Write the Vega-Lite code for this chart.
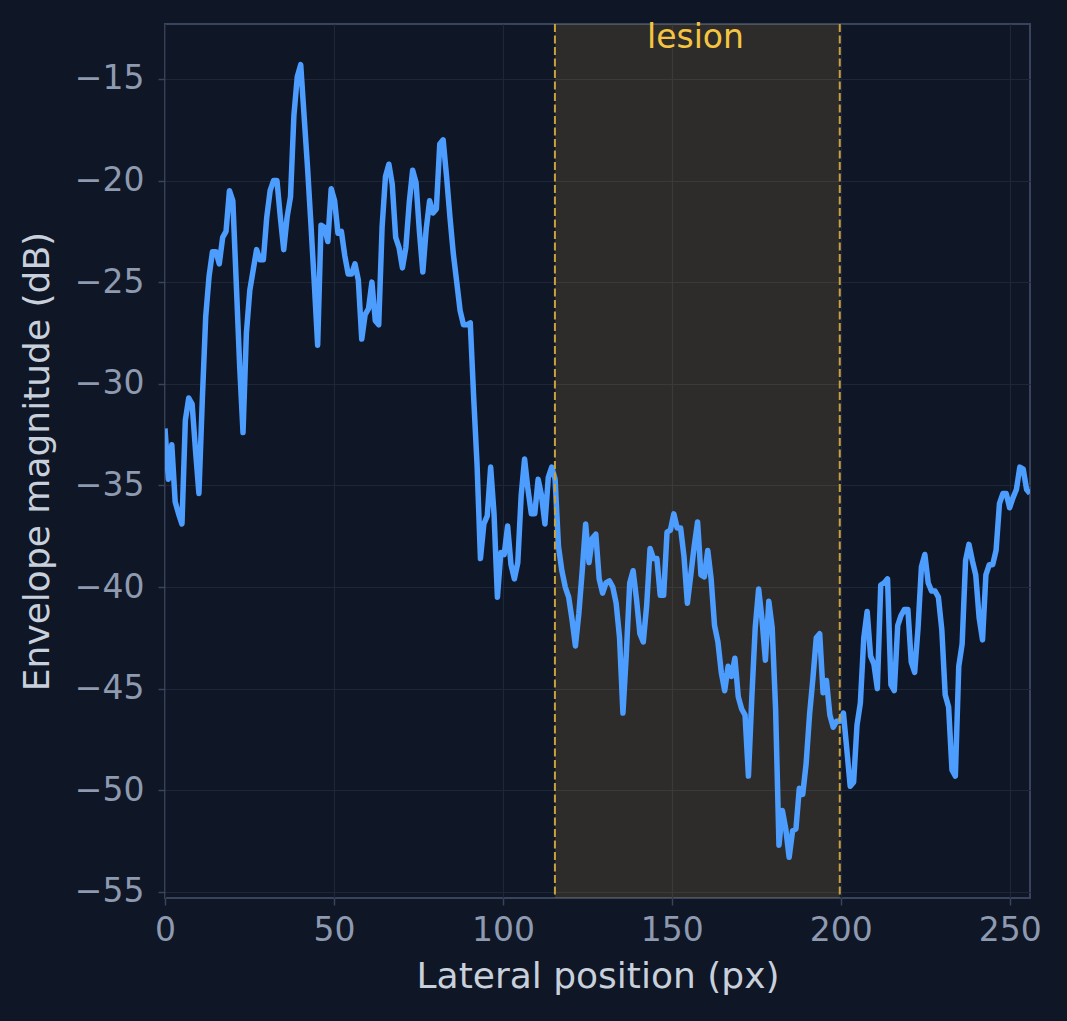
{
  "$schema": "https://vega.github.io/schema/vega-lite/v6.json",
  "width": 865,
  "height": 874,
  "autosize": {"type": "none"},
  "padding": {"left": 165, "top": 24, "right": 37, "bottom": 123},
  "background": "#0f1626",
  "config": {
    "view": {"stroke": "#37445c", "strokeWidth": 2},
    "font": "DejaVu Sans",
    "axis": {
      "domain": false,
      "grid": true,
      "gridColor": "#1e2737",
      "gridWidth": 1.2,
      "tickColor": "#37445c",
      "tickSize": 7,
      "tickWidth": 1.5,
      "labelColor": "#8e9ab0",
      "labelFontSize": 33,
      "labelFont": "DejaVu Sans",
      "labelFlush": false,
      "titleColor": "#c8d0dc",
      "titleFontSize": 36,
      "titleFont": "DejaVu Sans",
      "titleFontWeight": "normal"
    },
    "axisX": {"labelPadding": 9, "titlePadding": 12},
    "axisY": {"labelPadding": 14, "titlePadding": 18}
  },
  "datasets": {
    "lesion": [{"start": 115.4, "end": 199.7, "mid": 157, "label": "lesion"}],
    "env": [
      {"x":0,"v":-32.2},{"x":1.00,"v":-34.7},{"x":2.01,"v":-33.0},{"x":3.01,"v":-35.8},{"x":4.02,"v":-36.4},{"x":5.02,"v":-36.9},{"x":6.02,"v":-31.8},{"x":7.03,"v":-30.7},{"x":8.03,"v":-31.0},{"x":9.04,"v":-33.3},
      {"x":10.04,"v":-35.4},{"x":11.04,"v":-30.8},{"x":12.05,"v":-26.7},{"x":13.05,"v":-24.7},{"x":14.05,"v":-23.5},{"x":15.06,"v":-23.5},{"x":16.06,"v":-24.1},{"x":17.07,"v":-22.8},{"x":18.07,"v":-22.5},{"x":19.07,"v":-20.5},
      {"x":20.08,"v":-21.0},{"x":21.08,"v":-25.0},{"x":22.09,"v":-29.1},{"x":23.09,"v":-32.4},{"x":24.09,"v":-27.5},{"x":25.10,"v":-25.4},{"x":26.10,"v":-24.4},{"x":27.11,"v":-23.4},{"x":28.11,"v":-23.9},{"x":29.11,"v":-23.9},
      {"x":30.12,"v":-21.8},{"x":31.12,"v":-20.5},{"x":32.13,"v":-20.0},{"x":33.13,"v":-20.0},{"x":34.13,"v":-21.8},{"x":35.14,"v":-23.4},{"x":36.14,"v":-21.8},{"x":37.15,"v":-20.8},{"x":38.15,"v":-16.8},{"x":39.15,"v":-14.9},
      {"x":40.16,"v":-14.3},{"x":41.16,"v":-16.8},{"x":42.16,"v":-19.3},{"x":43.17,"v":-22.1},{"x":44.17,"v":-25.0},{"x":45.18,"v":-28.1},{"x":46.18,"v":-22.2},{"x":47.18,"v":-22.3},{"x":48.19,"v":-23.0},{"x":49.19,"v":-20.4},
      {"x":50.20,"v":-21.0},{"x":51.20,"v":-22.6},{"x":52.20,"v":-22.5},{"x":53.21,"v":-23.7},{"x":54.21,"v":-24.6},{"x":55.22,"v":-24.6},{"x":56.22,"v":-24.1},{"x":57.22,"v":-24.9},{"x":58.23,"v":-27.8},{"x":59.23,"v":-26.6},
      {"x":60.24,"v":-26.3},{"x":61.24,"v":-25.0},{"x":62.24,"v":-26.9},{"x":63.25,"v":-27.1},{"x":64.25,"v":-22.3},{"x":65.25,"v":-19.8},{"x":66.26,"v":-19.2},{"x":67.26,"v":-20.2},{"x":68.27,"v":-22.8},{"x":69.27,"v":-23.3},
      {"x":70.27,"v":-24.3},{"x":71.28,"v":-23.3},{"x":72.28,"v":-21.1},{"x":73.29,"v":-19.5},{"x":74.29,"v":-20.1},{"x":75.29,"v":-22.5},{"x":76.30,"v":-24.5},{"x":77.30,"v":-22.4},{"x":78.31,"v":-21.0},{"x":79.31,"v":-21.6},
      {"x":80.31,"v":-21.4},{"x":81.32,"v":-18.2},{"x":82.32,"v":-18.0},{"x":83.33,"v":-19.8},{"x":84.33,"v":-21.8},{"x":85.33,"v":-23.6},{"x":86.34,"v":-25.0},{"x":87.34,"v":-26.4},{"x":88.35,"v":-27.1},{"x":89.35,"v":-27.1},
      {"x":90.35,"v":-27.0},{"x":91.36,"v":-30.7},{"x":92.36,"v":-34.0},{"x":93.36,"v":-38.6},{"x":94.37,"v":-36.9},{"x":95.37,"v":-36.5},{"x":96.38,"v":-34.1},{"x":97.38,"v":-36.4},{"x":98.38,"v":-40.5},{"x":99.39,"v":-38.3},
      {"x":100.39,"v":-38.4},{"x":101.40,"v":-37.0},{"x":102.40,"v":-38.9},{"x":103.40,"v":-39.6},{"x":104.41,"v":-38.8},{"x":105.41,"v":-35.5},{"x":106.42,"v":-33.7},{"x":107.42,"v":-35.2},{"x":108.42,"v":-36.4},{"x":109.43,"v":-36.4},
      {"x":110.43,"v":-34.7},{"x":111.44,"v":-35.5},{"x":112.44,"v":-36.9},{"x":113.44,"v":-34.6},{"x":114.45,"v":-34.1},{"x":115.45,"v":-34.7},{"x":116.45,"v":-38.0},{"x":117.46,"v":-39.2},{"x":118.46,"v":-40.0},{"x":119.47,"v":-40.5},
      {"x":120.47,"v":-41.6},{"x":121.47,"v":-42.9},{"x":122.48,"v":-41.3},{"x":123.48,"v":-39.2},{"x":124.49,"v":-36.9},{"x":125.49,"v":-38.8},{"x":126.49,"v":-37.6},{"x":127.50,"v":-37.4},{"x":128.50,"v":-39.6},{"x":129.51,"v":-40.3},
      {"x":130.51,"v":-39.8},{"x":131.51,"v":-39.7},{"x":132.52,"v":-40.0},{"x":133.52,"v":-40.8},{"x":134.53,"v":-42.5},{"x":135.53,"v":-46.2},{"x":136.53,"v":-43.3},{"x":137.54,"v":-39.8},{"x":138.54,"v":-39.2},{"x":139.55,"v":-40.6},
      {"x":140.55,"v":-42.3},{"x":141.55,"v":-42.7},{"x":142.56,"v":-40.9},{"x":143.56,"v":-38.1},{"x":144.56,"v":-38.6},{"x":145.57,"v":-38.6},{"x":146.57,"v":-40.4},{"x":147.58,"v":-40.4},{"x":148.58,"v":-37.3},{"x":149.58,"v":-37.2},
      {"x":150.59,"v":-36.4},{"x":151.59,"v":-37.1},{"x":152.60,"v":-37.1},{"x":153.60,"v":-38.5},{"x":154.60,"v":-40.8},{"x":155.61,"v":-39.4},{"x":156.61,"v":-38.0},{"x":157.62,"v":-36.8},{"x":158.62,"v":-39.4},{"x":159.62,"v":-39.5},
      {"x":160.63,"v":-38.2},{"x":161.63,"v":-39.6},{"x":162.64,"v":-41.9},{"x":163.64,"v":-42.7},{"x":164.64,"v":-44.2},{"x":165.65,"v":-45.1},{"x":166.65,"v":-43.9},{"x":167.65,"v":-44.4},{"x":168.66,"v":-43.5},{"x":169.66,"v":-45.4},
      {"x":170.67,"v":-46.0},{"x":171.67,"v":-46.3},{"x":172.67,"v":-49.3},{"x":173.68,"v":-45.4},{"x":174.68,"v":-42.0},{"x":175.69,"v":-40.1},{"x":176.69,"v":-41.6},{"x":177.69,"v":-43.6},{"x":178.70,"v":-40.7},{"x":179.70,"v":-42.0},
      {"x":180.71,"v":-46.0},{"x":181.71,"v":-52.7},{"x":182.71,"v":-51.0},{"x":183.72,"v":-51.9},{"x":184.72,"v":-53.3},{"x":185.73,"v":-52.0},{"x":186.73,"v":-51.9},{"x":187.73,"v":-49.9},{"x":188.74,"v":-50.2},{"x":189.74,"v":-48.7},
      {"x":190.75,"v":-46.3},{"x":191.75,"v":-44.5},{"x":192.75,"v":-42.5},{"x":193.76,"v":-42.3},{"x":194.76,"v":-45.2},{"x":195.76,"v":-44.6},{"x":196.77,"v":-46.3},{"x":197.77,"v":-46.9},{"x":198.78,"v":-46.6},{"x":199.78,"v":-46.6},
      {"x":200.78,"v":-46.2},{"x":201.79,"v":-48.0},{"x":202.79,"v":-49.8},{"x":203.80,"v":-49.6},{"x":204.80,"v":-46.8},{"x":205.80,"v":-45.7},{"x":206.81,"v":-42.5},{"x":207.81,"v":-41.2},{"x":208.82,"v":-43.4},{"x":209.82,"v":-43.8},
      {"x":210.82,"v":-45.0},{"x":211.83,"v":-39.9},{"x":212.83,"v":-39.8},{"x":213.84,"v":-39.6},{"x":214.84,"v":-44.8},{"x":215.84,"v":-45.1},{"x":216.85,"v":-41.9},{"x":217.85,"v":-41.4},{"x":218.85,"v":-41.1},{"x":219.86,"v":-41.1},
      {"x":220.86,"v":-43.7},{"x":221.87,"v":-44.2},{"x":222.87,"v":-42.0},{"x":223.87,"v":-39.0},{"x":224.88,"v":-38.4},{"x":225.88,"v":-39.8},{"x":226.89,"v":-40.2},{"x":227.89,"v":-40.2},{"x":228.89,"v":-40.5},{"x":229.90,"v":-42.1},
      {"x":230.90,"v":-45.3},{"x":231.91,"v":-45.9},{"x":232.91,"v":-49.0},{"x":233.91,"v":-49.3},{"x":234.92,"v":-43.9},{"x":235.92,"v":-42.8},{"x":236.93,"v":-38.7},{"x":237.93,"v":-37.9},{"x":238.93,"v":-38.7},{"x":239.94,"v":-39.4},
      {"x":240.94,"v":-41.5},{"x":241.95,"v":-42.6},{"x":242.95,"v":-39.4},{"x":243.95,"v":-38.9},{"x":244.96,"v":-38.9},{"x":245.96,"v":-38.2},{"x":246.96,"v":-35.9},{"x":247.97,"v":-35.4},{"x":248.97,"v":-35.4},{"x":249.98,"v":-36.1},
      {"x":250.98,"v":-35.6},{"x":251.98,"v":-35.2},{"x":252.99,"v":-34.1},{"x":253.99,"v":-34.2},{"x":255.00,"v":-35.2},{"x":256.00,"v":-35.4}
    ]
  },
  "layer": [
    {
      "data": {"name": "lesion"},
      "mark": {"type": "rect", "color": "#f5c542", "opacity": 0.13},
      "encoding": {
        "x": {"field": "start", "type": "quantitative", "title": "Lateral position (px)", "scale": {"domain": [0, 256], "nice": false, "zero": false}, "axis": {"values": [0, 50, 100, 150, 200, 250]}},
        "x2": {"field": "end"}
      }
    },
    {
      "data": {"name": "env"},
      "mark": {"type": "line", "stroke": "#4d9dff", "strokeWidth": 5.5, "clip": true, "strokeJoin": "round"},
      "encoding": {
        "x": {"field": "x", "type": "quantitative", "title": "Lateral position (px)", "scale": {"domain": [0, 256], "nice": false, "zero": false}, "axis": {"values": [0, 50, 100, 150, 200, 250]}},
        "y": {"field": "v", "type": "quantitative", "title": "Envelope magnitude (dB)", "scale": {"domain": [-55.3, -12.3], "nice": false, "zero": false}, "axis": {"values": [-55, -50, -45, -40, -35, -30, -25, -20, -15]}}
      }
    },
    {
      "data": {"name": "lesion"},
      "mark": {"type": "rule", "color": "#c9a13d", "strokeWidth": 2, "strokeDash": [8, 3.5]},
      "encoding": {"x": {"field": "start", "type": "quantitative", "title": "Lateral position (px)", "axis": {"values": [0, 50, 100, 150, 200, 250]}}}
    },
    {
      "data": {"name": "lesion"},
      "mark": {"type": "rule", "color": "#c9a13d", "strokeWidth": 2, "strokeDash": [8, 3.5]},
      "encoding": {"x": {"field": "end", "type": "quantitative", "title": "Lateral position (px)", "axis": {"values": [0, 50, 100, 150, 200, 250]}}}
    },
    {
      "data": {"name": "lesion"},
      "mark": {"type": "text", "color": "#f5c542", "fontSize": 33, "font": "DejaVu Sans", "align": "center", "baseline": "middle"},
      "encoding": {
        "x": {"field": "mid", "type": "quantitative", "title": "Lateral position (px)", "axis": {"values": [0, 50, 100, 150, 200, 250]}},
        "y": {"datum": -13.0, "type": "quantitative", "title": "Envelope magnitude (dB)", "axis": {"values": [-55, -50, -45, -40, -35, -30, -25, -20, -15]}},
        "text": {"field": "label"}
      }
    }
  ]
}
